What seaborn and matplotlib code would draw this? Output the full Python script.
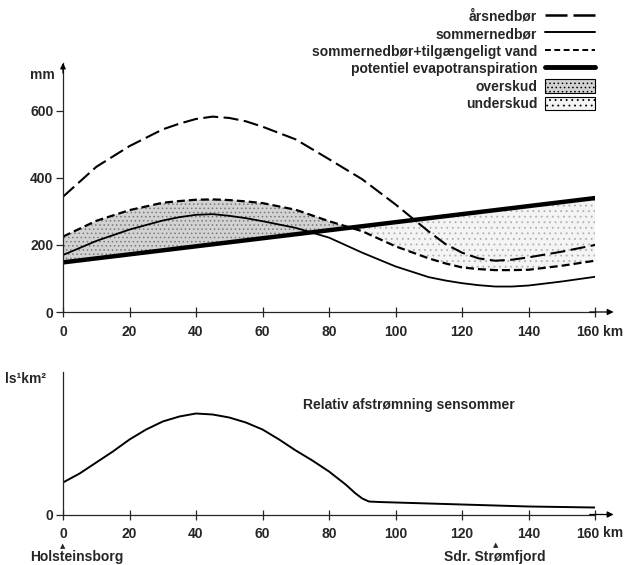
import numpy as np
import pandas as pd
import matplotlib
matplotlib.use("Agg")
import matplotlib.pyplot as plt
import matplotlib.transforms as mtransforms
import seaborn as sns
from matplotlib.lines import Line2D
from matplotlib.patches import Patch

# ---------------- data ----------------
km = [0, 10, 20, 30, 35, 40, 45, 50, 55, 60, 70, 80, 90, 100, 110, 115, 120, 125, 130, 135, 140, 150, 160]
aarsnedboer = [344, 433, 495, 545, 562, 576, 583, 579, 569, 553, 515, 456, 396, 321, 240, 203, 177, 160, 153, 156, 163, 180, 200]
sommer_vand = [225, 272, 304, 326, 331, 335, 336, 334, 330, 325, 305, 271, 241, 196, 160, 145, 133, 128, 125, 125, 126, 138, 153]
sommernedboer = [170, 212, 246, 273, 283, 290, 292, 287, 280, 271, 251, 222, 177, 136, 104, 94, 86, 80, 76, 76, 79, 91, 105]
evapotransp = [148, 160, 172, 184, 190, 196, 202, 208, 214, 220, 232, 244, 256, 268, 280, 286, 292, 298, 304, 310, 316, 328, 340]

km_runoff = [0, 5, 10, 15, 20, 25, 30, 35, 40, 45, 50, 55, 60, 65, 70, 75, 80, 85, 88, 90, 92, 95, 100, 120, 140, 160]
afstroemning = [32, 41, 52, 63, 75, 85, 93, 98, 101, 100, 97, 92, 85, 75, 64, 54, 43, 30, 21, 16, 13, 12.5, 12, 10, 8, 7]

x_ticks = [0, 20, 40, 60, 80, 100, 120, 140, 160]
y_ticks_top = [0, 200, 400, 600]

labels = ["årsnedbør", "sommernedbør", "sommernedbør+tilgængeligt vand",
          "potentiel evapotranspiration", "overskud", "underskud"]

df = pd.DataFrame({"km": km, "aar": aarsnedboer, "sv": sommer_vand,
                   "sn": sommernedboer, "ev": evapotransp})
df2 = pd.DataFrame({"km": km_runoff, "q": afstroemning})

# ---------------- style ----------------
sns.set_style("ticks")
plt.rcParams["font.family"] = ["Liberation Sans", "DejaVu Sans"]
plt.rcParams["hatch.linewidth"] = 0.6

W, H = 627, 565
fig = plt.figure(figsize=(W / 100, H / 100), dpi=100)

x0, x1 = 63, 595
ax1 = fig.add_axes([x0 / W, 1 - 312 / H, (x1 - x0) / W, (312 - 63) / H])
ax2 = fig.add_axes([x0 / W, 1 - 514.5 / H, (x1 - x0) / W, (514.5 - 372) / H])

over_kw = dict(facecolor="#d2d2d2", hatch="....", edgecolor="#7a7a7a", linewidth=0)
under_kw = dict(facecolor="#f4f4f4", hatch="...", edgecolor="#b0b0b0", linewidth=0)

# ---------------- top chart ----------------
sv = np.array(sommer_vand, float)
ev = np.array(evapotransp, float)
ax1.fill_between(km, sv, ev, where=sv >= ev, interpolate=True, **over_kw)
ax1.fill_between(km, sv, ev, where=sv <= ev, interpolate=True, **under_kw)

sns.lineplot(data=df, x="km", y="aar", ax=ax1, color="k", linewidth=1.5,
             linestyle=(0, (7.2, 2.6)))
sns.lineplot(data=df, x="km", y="sn", ax=ax1, color="k", linewidth=1.3)
sns.lineplot(data=df, x="km", y="sv", ax=ax1, color="k", linewidth=1.6,
             linestyle=(0, (3.6, 1.8)))
sns.lineplot(data=df, x="km", y="ev", ax=ax1, color="k", linewidth=3.2,
             solid_capstyle="round")

ax1.set_xlim(0, 160)
ax1.set_ylim(0, 743)
ax1.set_xticks(x_ticks)
ax1.set_yticks(y_ticks_top)

# ---------------- bottom chart ----------------
sns.lineplot(data=df2, x="km", y="q", ax=ax2, color="k", linewidth=1.4)
ax2.set_xlim(0, 160)
ax2.set_ylim(0, 142.5)
ax2.set_xticks(x_ticks)
ax2.set_yticks([0])

shift = mtransforms.ScaledTranslation(-7 / 100, 0, fig.dpi_scale_trans)
for ax in (ax1, ax2):
    sns.despine(ax=ax)
    ax.set_xlabel("")
    ax.set_ylabel("")
    ax.spines["left"].set_linewidth(0.9)
    ax.spines["bottom"].set_linewidth(0.9)
    ax.tick_params(axis="x", direction="inout", length=7, width=0.9,
                   labelsize=10, pad=5.5)
    ax.tick_params(axis="y", direction="out", length=5, width=0.9,
                   labelsize=10, pad=2)
    for t in ax.get_xticklabels() + ax.get_yticklabels():
        t.set_fontweight("bold")
    last = ax.get_xticklabels()[-1]
    last.set_transform(last.get_transform() + shift)
    ax.annotate("", xy=(1.035, 0), xytext=(0.99, 0), xycoords="axes fraction",
                arrowprops=dict(arrowstyle="-|>", lw=0.9, color="k",
                                mutation_scale=9, shrinkA=0, shrinkB=0),
                annotation_clip=False)

ax1.annotate("", xy=(0, 1.0), xytext=(0, 0.96), xycoords="axes fraction",
             arrowprops=dict(arrowstyle="-|>", lw=0.9, color="k",
                             mutation_scale=8, shrinkA=0, shrinkB=0),
             annotation_clip=False)

# ---------------- texts ----------------
fs = 10
fig.text(30 / W, 1 - 75 / H, "mm", fontsize=fs, fontweight="bold", va="center")
fig.text(603 / W, 1 - 332 / H, "km", fontsize=fs, fontweight="bold", va="center")
fig.text(603 / W, 1 - 533 / H, "km", fontsize=fs, fontweight="bold", va="center")
fig.text(5 / W, 1 - 379 / H, "ls¹km²", fontsize=fs, fontweight="bold", va="center")
fig.text(303 / W, 1 - 405 / H, "Relativ afstrømning sensommer", fontsize=fs,
         fontweight="bold", va="center")

xt = ax2.get_xaxis_transform()
ax2.text(0, -0.222, "▲", transform=xt, ha="center", va="center", fontsize=5,
         family="DejaVu Sans")
ax2.text(4.2, -0.295, "Holsteinsborg", transform=xt, ha="center", va="center",
         fontsize=fs, fontweight="bold")
ax2.text(130, -0.215, "▲", transform=xt, ha="center", va="center", fontsize=5,
         family="DejaVu Sans")
ax2.text(130, -0.295, "Sdr. Strømfjord", transform=xt, ha="center", va="center",
         fontsize=fs, fontweight="bold")

# ---------------- legend ----------------
handles = [
    Line2D([], [], color="k", linewidth=1.8, linestyle=(0, (8.8, 2.4))),
    Line2D([], [], color="k", linewidth=1.4),
    Line2D([], [], color="k", linewidth=1.4, linestyle=(0, (3.0, 1.8))),
    Line2D([], [], color="k", linewidth=3.5),
    Patch(facecolor=over_kw["facecolor"], hatch=over_kw["hatch"],
          edgecolor="k", linewidth=0.8),
    Patch(facecolor=under_kw["facecolor"], hatch=under_kw["hatch"],
          edgecolor="k", linewidth=0.8),
]
leg = fig.legend(handles, labels, loc="upper right",
                 bbox_to_anchor=(595 / W, 1 - 9 / H), bbox_transform=fig.transFigure,
                 frameon=False, markerfirst=False, fontsize=fs,
                 handlelength=3.6, handleheight=1.15, handletextpad=0.55,
                 labelspacing=0.21, borderpad=0, borderaxespad=0)
for t in leg.get_texts():
    t.set_fontweight("bold")

fig.savefig("out.png", dpi=100)
